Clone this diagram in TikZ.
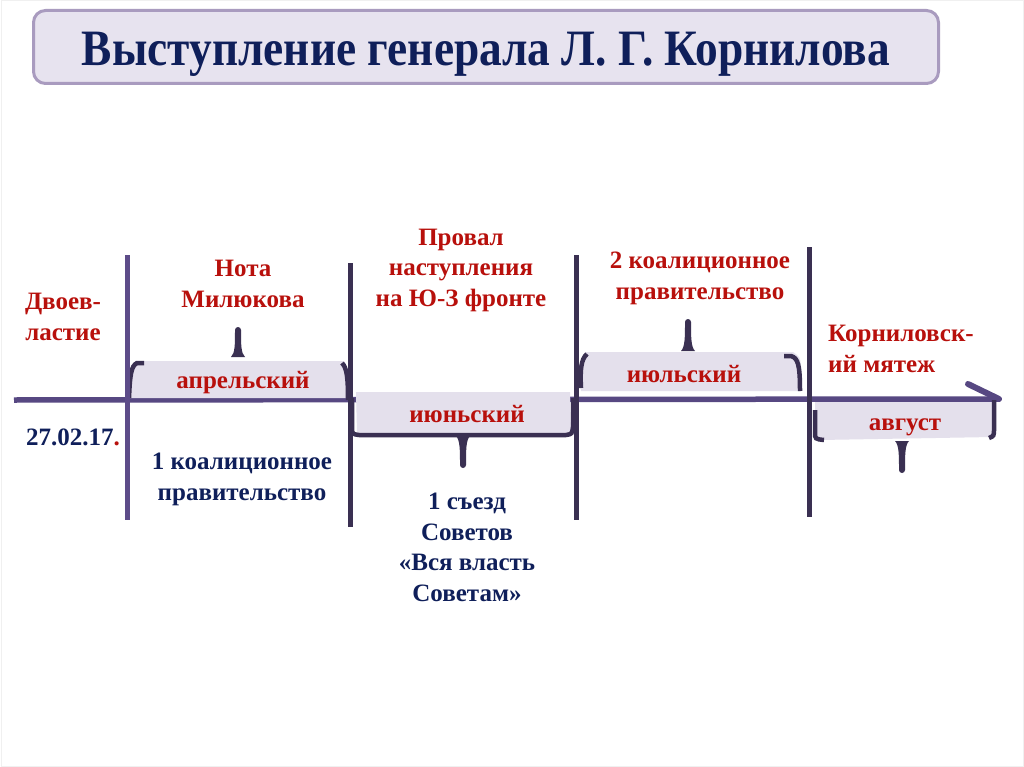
\documentclass[tikz,border=0pt]{standalone}
\usepackage{fontspec}
\setmainfont{Liberation Serif}
\definecolor{navy}{HTML}{0F1F5A}
\definecolor{darkred}{HTML}{B8100C}
\definecolor{mainpurple}{HTML}{574882}
\definecolor{lightpurple}{HTML}{5D4C89}
\definecolor{darkpurple}{HTML}{3A3052}
\definecolor{boxfill}{HTML}{E4E0EC}
\definecolor{titlefill}{HTML}{E7E3EF}
\definecolor{titleborder}{HTML}{A99BBF}
\begin{document}
\begin{tikzpicture}[x=1pt,y=-1pt,
  redlbl/.style={text=darkred,font=\fontsize{25}{30.5}\selectfont\bfseries,align=center,inner sep=0pt,anchor=base},
  navylbl/.style={text=navy,font=\fontsize{25}{30.5}\selectfont\bfseries,align=center,inner sep=0pt,anchor=base},
  monthlbl/.style={text=darkred,font=\fontsize{25}{30.5}\selectfont\bfseries,inner sep=0pt,anchor=base},
  vline/.style={draw=darkpurple,line width=5pt},
  bracket/.style={draw=darkpurple,line width=4.5pt},
  scroll/.style={fill=boxfill},
  spike/.style={fill=darkpurple}]
\useasboundingbox (0,0) rectangle (1024,767);
\fill[white] (0,0) rectangle (1024,767);
\draw[black!6,line width=1pt] (1,1) rectangle (1023,766);

% title
\node[draw=titleborder,fill=titlefill,line width=3pt,rounded corners=12pt,
  minimum width=905pt,minimum height=73pt,inner sep=0pt] (title) at (486,47) {};
\node[text=navy,font=\fontsize{51}{55}\selectfont\bfseries,inner sep=0pt,anchor=base] (titletext) at (486,66)
  {\scalebox{0.89}[1]{Выступление генерала Л. Г. Корнилова}};

% main line
\draw[mainpurple,line width=5.5pt] (14,400) -- (999,399);
\draw[mainpurple,line width=6pt,line cap=round] (968,384) -- (999,399);

% box 1 (april)
\fill[scroll] (138,361) -- (344,361) .. controls (348,370) .. (348,398) -- (130,398) .. controls (130,372) .. (138,361) -- cycle;
\draw[bracket] (144,363) -- (137,363) .. controls (131,366) and (130,375) .. (129,398);
\draw[bracket] (342,363) .. controls (347,368) and (348,378) .. (348,400);
\fill[spike] (231,357) .. controls (235,353) and (235,345) .. (235,330) arc[start angle=180,end angle=360,radius=3] .. controls (241,345) and (241,353) .. (245,357) -- cycle;

% box 2 (june)
\fill[scroll] (356,392) -- (570,392) -- (571,433) -- (357,433) -- cycle;
\draw[bracket] (352,398) -- (352,427) .. controls (352,434) .. (359,435) -- (566,435) .. controls (572,434) .. (573,427) -- (573,398);
\fill[spike] (456,436) .. controls (460,440) and (460,450) .. (460,465) arc[start angle=180,end angle=0,radius=3] .. controls (466,450) and (466,440) .. (470,436) -- cycle;

% box 3 (july)
\fill[scroll] (585,352) -- (793,352) .. controls (800,357) .. (801,366) -- (801,391) -- (581,391) .. controls (580,368) .. (585,352) -- cycle;
\draw[bracket] (587,354) .. controls (581,359) and (580,370) .. (581,388);
\draw[bracket] (784,356) -- (791,356) .. controls (798,358) and (800,365) .. (800,391);
\fill[spike] (681,351) .. controls (685,347) and (685,337) .. (685,322) arc[start angle=180,end angle=360,radius=3] .. controls (691,337) and (691,347) .. (695,351) -- cycle;

% box 4 (august)
\fill[scroll] (815,402) -- (993,402) -- (993,437) -- (820,440) -- (815,435) -- cycle;
\draw[bracket] (815,410) -- (815,432) .. controls (815,439) .. (824,440);
\draw[bracket] (994,400) -- (994,428) .. controls (994,436) .. (989,438);
\fill[spike] (895,441) .. controls (899,445) and (899,455) .. (899,470) arc[start angle=180,end angle=0,radius=3] .. controls (905,455) and (905,445) .. (909,441) -- cycle;

% vertical lines
\draw[vline,draw=lightpurple] (127,255) -- (127,520);
\draw[vline] (350,263) -- (350,527);
\draw[vline] (576,255) -- (576,520);
\draw[vline] (809,247) -- (809,517);

% month labels
\node[monthlbl] (apr) at (243,388) {апрельский};
\node[monthlbl] (jun) at (467,422) {июньский};
\node[monthlbl] (jul) at (684,382) {июльский};
\node[monthlbl] (aug) at (905,430) {август};

% red labels above (anchor base = last line)
\node[redlbl] (dvoev) at (63,340) {Двоев-\\ластие};
\node[redlbl] (nota) at (243,307) {Нота\\Милюкова};
\node[redlbl] (proval) at (461,306) {Провал\\наступления\\на Ю-З фронте};
\node[redlbl] (koal2) at (700,299) {2 коалиционное\\правительство};
\node[redlbl,align=left,anchor=base west] (korn) at (828,372) {Корниловск-\\ий мятеж};

% navy labels below
\node[navylbl] (date) at (73,445) {27.02.17\textcolor{darkred}{.}};
\node[navylbl] (koal1) at (242,500) {1 коалиционное\\правительство};
\node[navylbl] (sezd) at (467,601) {1 съезд\\Советов\\«Вся власть\\Советам»};
\end{tikzpicture}
\end{document}
